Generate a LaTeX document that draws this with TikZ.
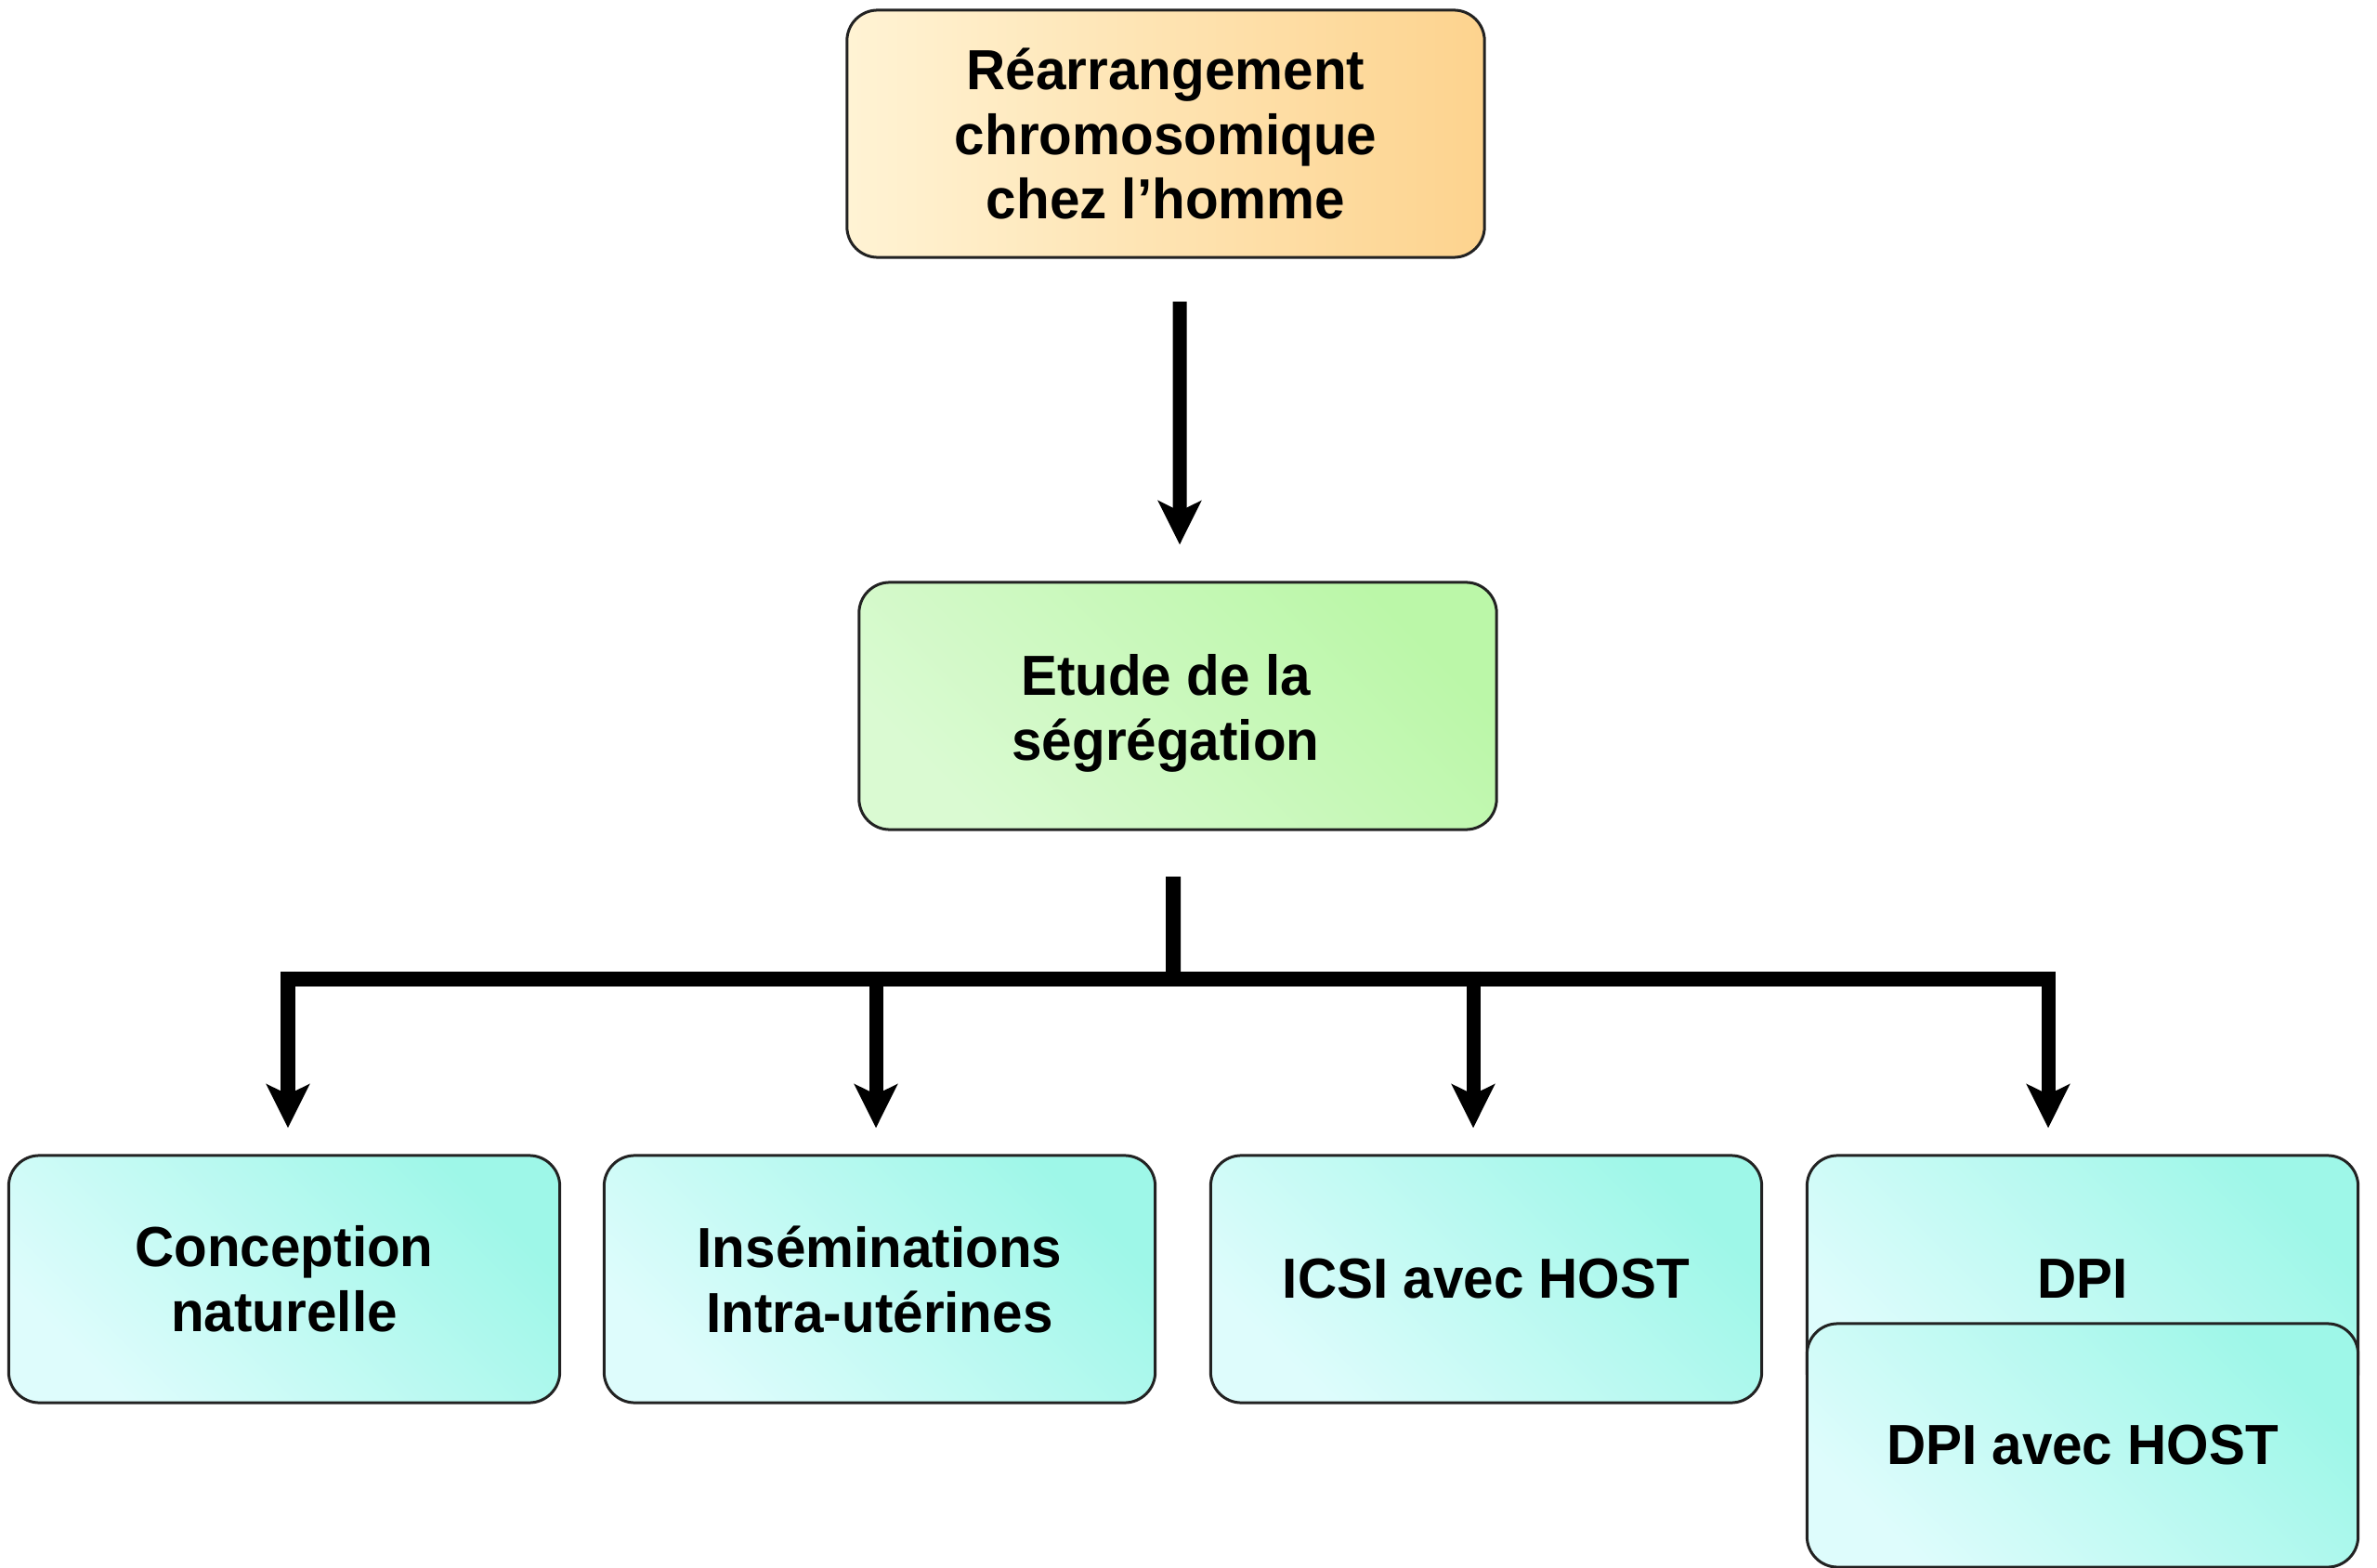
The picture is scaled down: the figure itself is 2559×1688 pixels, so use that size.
\documentclass[tikz,border=0pt]{standalone}
\usepackage{fontspec}
\setmainfont{Liberation Sans}[FakeStretch=0.96]
\usepackage{tikz}
\usetikzlibrary{arrows.meta, positioning, calc}
\usepackage{xcolor}
\definecolor{peachL}{RGB}{255,243,212}
\definecolor{peachR}{RGB}{253,211,142}
\definecolor{mintL}{RGB}{218,250,210}
\definecolor{mintR}{RGB}{187,247,168}
\definecolor{aquaL}{RGB}{222,252,252}
\definecolor{aquaR}{RGB}{158,247,232}
\definecolor{edge}{RGB}{34,34,34}

\begin{document}
\begin{tikzpicture}[x=0.01cm, y=-0.01cm,
  box/.style={draw=edge, line width=0.03cm, rounded corners=0.33cm, align=center,
    minimum width=5.93cm, minimum height=2.66cm, inner sep=0pt,
    font=\fontsize{17.3}{19.9}\selectfont\bfseries},
  peach/.style={left color=peachL, right color=peachR},
  mint/.style={bottom color=mintL, top color=mintR, shading angle=-45},
  aqua/.style={bottom color=aquaL, top color=aquaR, shading angle=-45},
  arr/.style={line width=0.15cm, -{Stealth[length=0.47cm, width=0.46cm, inset=0.11cm]}},
  bar/.style={line width=0.16cm}]
  \useasboundingbox (0,0) rectangle (2559,1688);
  \node[box, peach, minimum width=6.86cm] (chrom) at (1255,144) {Réarrangement\\chromosomique\\chez l’homme};
  \node[box, mint, minimum width=6.86cm] (segr) at (1268,760) {\hspace*{-0.26cm}\rule{0pt}{0.6cm}Etude de la\\\hspace*{-0.26cm}ségrégation};
  \node[box, aqua] (conc) at (306,1377) {Conception\\naturelle};
  \node[box, aqua] (iiu) at (947,1377) {Inséminations\\Intra-utérines};
  \node[box, aqua] (icsi) at (1600,1377) {ICSI avec HOST};
  \node[box, aqua] (dpi) at (2242,1377) {DPI};
  \node[box, aqua, minimum height=2.62cm] (dpih) at (2242,1556) {DPI avec HOST};
  \draw[arr] ([xshift=0.15cm, yshift=-0.46cm]chrom.south) -- ([xshift=0.02cm, yshift=0.39cm]segr.north);
  \coordinate (hub) at (1263,1054);
  \draw[bar] ([xshift=-0.05cm, yshift=-0.49cm]segr.south) -- ([yshift=0.08cm]hub);
  \coordinate (b1) at (310,1054);
  \coordinate (b2) at (943,1054);
  \coordinate (b3) at (1586,1054);
  \coordinate (b4) at (2205,1054);
  \draw[bar] ([xshift=-0.075cm]b1) -- ([xshift=0.08cm]b4);
  \foreach \b/\t in {b1/conc, b2/iiu, b3/icsi, b4/dpi}
    \draw[arr] ([yshift=0.08cm]\b) -- ([yshift=0.28cm]\b |- \t.north);
\end{tikzpicture}
\end{document}
